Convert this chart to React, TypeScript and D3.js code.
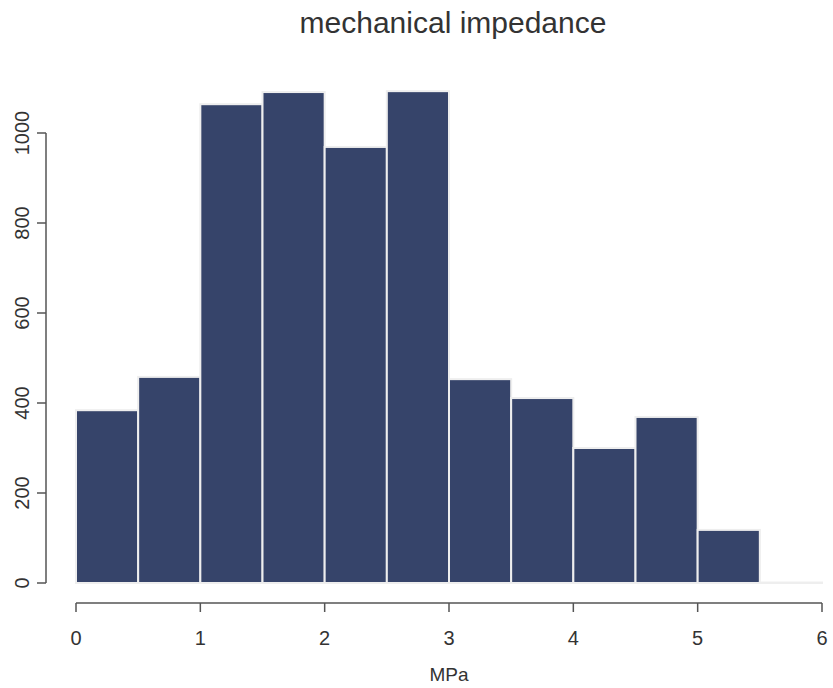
import React from 'react';
import * as d3 from 'd3';

// histogram bins (MPa) and counts
const binStarts = [0, 0.5, 1, 1.5, 2, 2.5, 3, 3.5, 4, 4.5, 5, 5.5];
const counts = [384, 458, 1064, 1091, 969, 1093, 453, 411, 300, 369, 118, 1];
const xTicks = [0, 1, 2, 3, 4, 5, 6];
const yTicks = [0, 200, 400, 600, 800, 1000];
const binWidth = 0.5;

const App = () => {
  const width = 833;
  const height = 688;

  const x = d3.scaleLinear().domain([0, 6]).range([76, 822]);
  const y = d3.scaleLinear().domain([0, 1000]).range([583, 133]);

  const font = '"Liberation Sans", Arial, sans-serif';
  const textColor = '#333333';
  const axisColor = '#555555';

  const axisY = 603; // x axis line
  const axisX = 46; // y axis line

  return (
    <svg width={width} height={height} style={{ position: 'absolute', left: 0, top: 0 }}>
      <rect width={width} height={height} fill="#ffffff" />

      <text x={453} y={33} textAnchor="middle" fontFamily={font} fontSize={30} fill={textColor}>
        mechanical impedance
      </text>

      {/* bars */}
      {binStarts.map((b, i) => (
        <rect
          key={i}
          x={x(b)}
          y={y(counts[i])}
          width={x(b + binWidth) - x(b)}
          height={y(0) - y(counts[i])}
          fill="#36446a"
          stroke="#eeeeee"
          strokeWidth={2}
        />
      ))}

      {/* x axis */}
      <line x1={x(0)} x2={x(6)} y1={axisY} y2={axisY} stroke={axisColor} strokeWidth={1.5} />
      {xTicks.map(t => (
        <g key={t}>
          <line x1={x(t)} x2={x(t)} y1={axisY} y2={axisY + 9} stroke={axisColor} strokeWidth={1.5} />
          <text x={x(t)} y={axisY + 42} textAnchor="middle" fontFamily={font} fontSize={20} fill={textColor}>
            {t}
          </text>
        </g>
      ))}
      <text x={449} y={681} textAnchor="middle" fontFamily={font} fontSize={19} fill={textColor}>
        MPa
      </text>

      {/* y axis */}
      <line x1={axisX} x2={axisX} y1={y(0)} y2={y(1000)} stroke={axisColor} strokeWidth={1.5} />
      {yTicks.map(t => (
        <g key={t}>
          <line x1={axisX - 9} x2={axisX} y1={y(t)} y2={y(t)} stroke={axisColor} strokeWidth={1.5} />
          <text
            transform={`translate(${axisX - 17},${y(t)}) rotate(-90)`}
            textAnchor="middle"
            fontFamily={font}
            fontSize={20}
            fill={textColor}
          >
            {t}
          </text>
        </g>
      ))}
    </svg>
  );
};

export default App;
